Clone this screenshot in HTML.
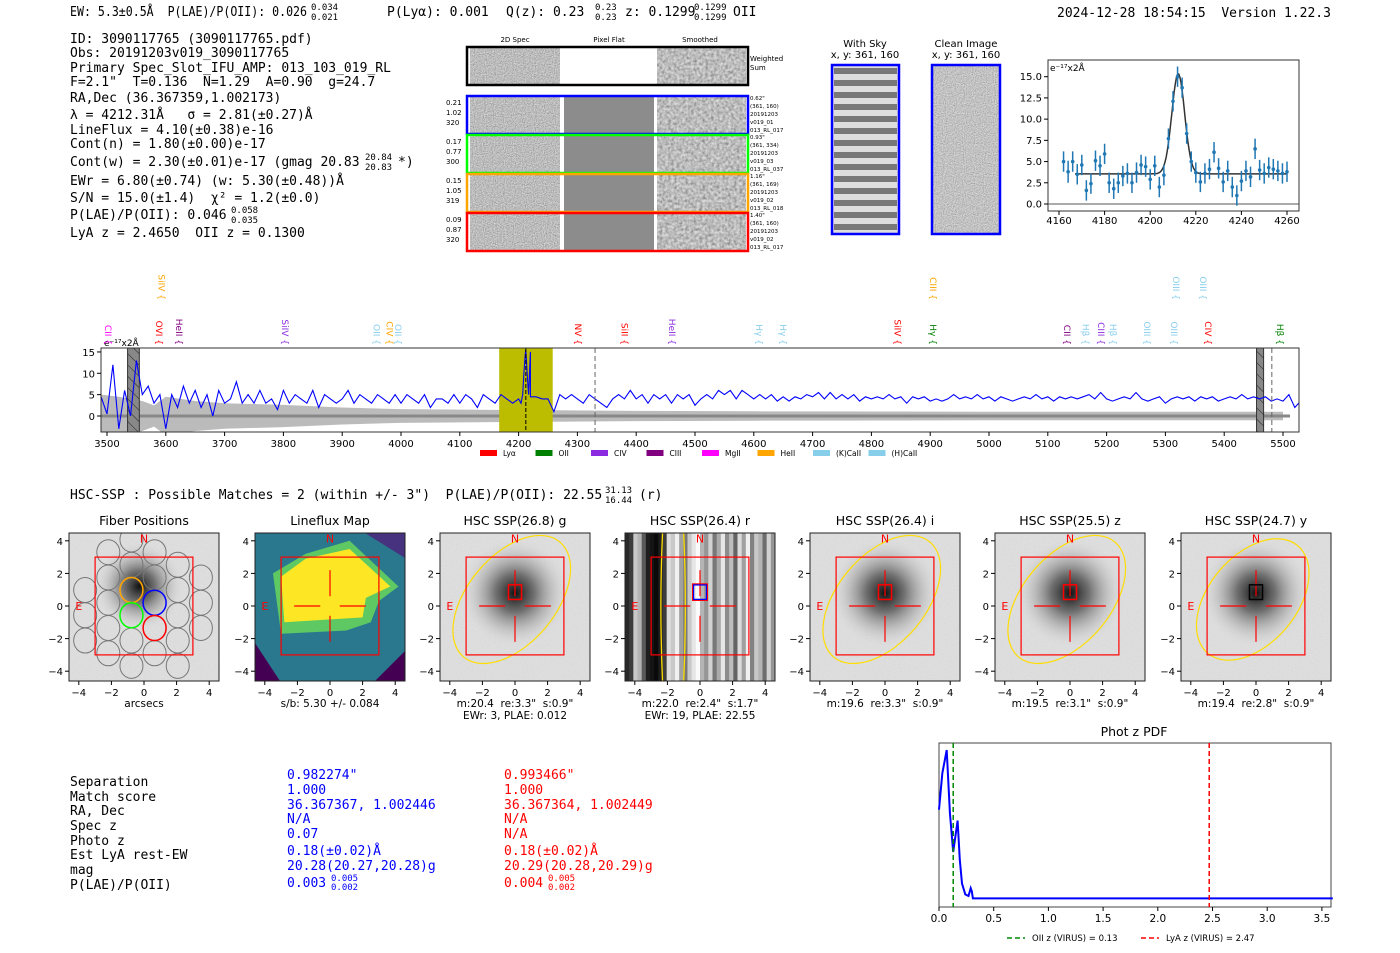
<!DOCTYPE html>
<html><head><meta charset="utf-8">
<style>
html,body{margin:0;padding:0;background:#fff;}
svg{display:block;}
.m{font-family:"DejaVu Sans Mono","Liberation Mono",monospace;font-size:13px;fill:#000;white-space:pre;}
.sm{font-size:9px;}
.s{font-family:"DejaVu Sans","Liberation Sans",sans-serif;}
</style></head>
<body>
<svg id="fig" width="1400" height="953" viewBox="0 0 1400 953" xmlns="http://www.w3.org/2000/svg" xml:space="preserve">
<defs>
<filter id="noise" x="0" y="0" width="100%" height="100%">
<feTurbulence type="fractalNoise" baseFrequency="0.9" numOctaves="1" seed="3"/>
<feColorMatrix type="saturate" values="0"/>
<feComponentTransfer><feFuncA type="linear" slope="0" intercept="1"/></feComponentTransfer>
</filter>
<filter id="noise2" x="0" y="0" width="100%" height="100%">
<feTurbulence type="fractalNoise" baseFrequency="0.35" numOctaves="2" seed="7"/>
<feColorMatrix type="saturate" values="0"/>
<feComponentTransfer><feFuncA type="linear" slope="0" intercept="1"/></feComponentTransfer>
</filter>
<radialGradient id="blob" cx="50%" cy="50%" r="50%">
<stop offset="0" stop-color="#111"/><stop offset="0.35" stop-color="#555" stop-opacity="0.8"/><stop offset="1" stop-color="#ddd" stop-opacity="0"/>
</radialGradient>
<pattern id="hatch" width="8" height="8" patternUnits="userSpaceOnUse" patternTransform="rotate(-45)">
<line x1="0" y1="0" x2="0" y2="8" stroke="#222" stroke-width="1"/></pattern>
</defs>

<g>
<text class="m" x="70" y="16" textLength="237" lengthAdjust="spacingAndGlyphs">EW: 5.3±0.5Å  P(LAE)/P(OII): 0.026</text>
<text class="m sm" x="311" y="10">0.034</text><text class="m sm" x="311" y="20">0.021</text>
<text class="m" x="387" y="16">P(Lyα): 0.001</text>
<text class="m" x="506" y="16">Q(z): 0.23</text>
<text class="m sm" x="595" y="10">0.23</text><text class="m sm" x="595" y="20">0.23</text>
<text class="m" x="625" y="16">z: 0.1299</text>
<text class="m sm" x="694" y="10">0.1299</text><text class="m sm" x="694" y="20">0.1299</text>
<text class="m" x="733" y="16">OII</text>
<text class="m" x="1057" y="17">2024-12-28 18:54:15  Version 1.22.3</text>
</g>

<g>
<text class="m" x="70" y="43">ID: 3090117765 (3090117765.pdf)</text>
<text class="m" x="70" y="57">Obs: 20191203v019_3090117765</text>
<text class="m" x="70" y="72">Primary Spec_Slot_IFU_AMP: 013_103_019_RL</text>
<text class="m" x="70" y="86">F=2.1"  T=0.136  N=1.29  A=0.90  g=24.7</text>
<text class="m" x="70" y="102">RA,Dec (36.367359,1.002173)</text>
<text class="m" x="70" y="119">λ = 4212.31Å   σ = 2.81(±0.27)Å</text>
<text class="m" x="70" y="134">LineFlux = 4.10(±0.38)e-16</text>
<text class="m" x="70" y="148">Cont(n) = 1.80(±0.00)e-17</text>
<text class="m" x="70" y="166">Cont(w) = 2.30(±0.01)e-17 (gmag 20.83</text>
<text class="m sm" x="365" y="160">20.84</text><text class="m sm" x="365" y="170">20.83</text>
<text class="m" x="398" y="166">*)</text>
<text class="m" x="70" y="185">EWr = 6.80(±0.74) (w: 5.30(±0.48))Å</text>
<text class="m" x="70" y="202">S/N = 15.0(±1.4)  χ² = 1.2(±0.0)</text>
<text class="m" x="70" y="219">P(LAE)/P(OII): 0.046</text>
<text class="m sm" x="231" y="213">0.058</text><text class="m sm" x="231" y="223">0.035</text>
<text class="m" x="70" y="237">LyA z = 2.4650  OII z = 0.1300</text>
</g>

<g class="s" font-size="7">
<text x="515" y="42" text-anchor="middle">2D Spec</text>
<text x="609" y="42" text-anchor="middle">Pixel Flat</text>
<text x="700" y="42" text-anchor="middle">Smoothed</text>
<rect x="470" y="48" width="90" height="36" filter="url(#noise)"/>
<rect x="564" y="48" width="90" height="36" fill="#fff"/>
<rect x="657" y="48" width="89" height="36" filter="url(#noise2)"/>
<rect x="467" y="47" width="281" height="38" fill="none" stroke="#000" stroke-width="2.5"/>
<text x="750" y="61">Weighted</text><text x="750" y="70">Sum</text>
<g id="specrows"></g>
</g>

<g class="s" font-size="10">
<text x="865" y="47" text-anchor="middle">With Sky</text>
<text x="865" y="58" text-anchor="middle">x, y: 361, 160</text>
<text x="966" y="47" text-anchor="middle">Clean Image</text>
<text x="966" y="58" text-anchor="middle">x, y: 361, 160</text>
<rect x="832" y="65" width="67" height="169" fill="#ddd"/>
<g id="skystripes"></g>
<rect x="932" y="65" width="68" height="169" filter="url(#noise)" opacity="0.9"/>
<rect x="832" y="65" width="67" height="169" fill="none" stroke="#00f" stroke-width="2.5"/>
<rect x="932" y="65" width="68" height="169" fill="none" stroke="#00f" stroke-width="2.5"/>
</g>

<g id="linefit"></g>
<g id="spectrum"></g>

<g>
<text class="m" x="70" y="499">HSC-SSP : Possible Matches = 2 (within +/- 3")  P(LAE)/P(OII): 22.55</text>
<text class="m sm" x="605" y="493">31.13</text><text class="m sm" x="605" y="503">16.44</text>
<text class="m" x="639" y="499">(r)</text>
</g>

<g id="cutouts"></g>

<g>
<text class="m" x="70" y="786">Separation</text>
<text class="m" x="70" y="801">Match score</text>
<text class="m" x="70" y="815">RA, Dec</text>
<text class="m" x="70" y="830">Spec z</text>
<text class="m" x="70" y="845">Photo z</text>
<text class="m" x="70" y="859">Est LyA rest-EW</text>
<text class="m" x="70" y="874">mag</text>
<text class="m" x="70" y="889">P(LAE)/P(OII)</text>
<text class="m" style="fill:#00f" x="287" y="779">0.982274"</text>
<text class="m" style="fill:#00f" x="287" y="794">1.000</text>
<text class="m" style="fill:#00f" x="287" y="809">36.367367, 1.002446</text>
<text class="m" style="fill:#00f" x="287" y="823">N/A</text>
<text class="m" style="fill:#00f" x="287" y="838">0.07</text>
<text class="m" style="fill:#00f" x="287" y="855">0.18(±0.02)Å</text>
<text class="m" style="fill:#00f" x="287" y="870">20.28(20.27,20.28)g</text>
<text class="m" style="fill:#00f" x="287" y="887">0.003</text>
<text class="m sm" style="fill:#00f" x="331" y="881">0.005</text>
<text class="m sm" style="fill:#00f" x="331" y="890">0.002</text>
<text class="m" style="fill:#f00" x="504" y="779">0.993466"</text>
<text class="m" style="fill:#f00" x="504" y="794">1.000</text>
<text class="m" style="fill:#f00" x="504" y="809">36.367364, 1.002449</text>
<text class="m" style="fill:#f00" x="504" y="823">N/A</text>
<text class="m" style="fill:#f00" x="504" y="838">N/A</text>
<text class="m" style="fill:#f00" x="504" y="855">0.18(±0.02)Å</text>
<text class="m" style="fill:#f00" x="504" y="870">20.29(20.28,20.29)g</text>
<text class="m" style="fill:#f00" x="504" y="887">0.004</text>
<text class="m sm" style="fill:#f00" x="548" y="881">0.005</text>
<text class="m sm" style="fill:#f00" x="548" y="890">0.002</text>
</g>

<g id="pdf"></g>
</svg>

<script>
const fitLam = [4162,4164,4166,4168,4170,4172,4174,4176,4178,4180,4182,4184,4186,4188,4190,4192,4194,4196,4198,4200,4202,4204,4206,4208,4210,4212,4214,4216,4218,4220,4222,4224,4226,4228,4230,4232,4234,4236,4238,4240,4242,4244,4246,4248,4250,4252,4254,4256,4258,4260];
const fitFlux = [5.0,3.8,5.0,3.5,4.6,1.6,2.4,5.1,4.5,5.9,2.5,1.8,2.5,3.3,3.6,2.5,3.7,4.6,4.4,2.9,4.5,2.0,3.4,7.7,12.1,15.0,13.7,8.3,5.0,3.7,2.6,3.6,4.1,6.1,4.2,2.6,3.9,2.0,1.0,2.7,3.9,3.2,6.5,4.0,3.6,4.3,4.1,3.9,3.6,3.8];
const fitErr = [1.2,1.3,1.2,1.2,1.2,1.2,1.2,1.2,1.2,1.2,1.2,1.2,1.2,1.2,1.2,1.2,1.2,1.2,1.2,1.2,1.2,1.2,1.2,1.2,1.2,1.2,1.2,1.2,1.2,1.2,1.2,1.2,1.2,1.2,1.2,1.2,1.2,1.2,1.2,1.2,1.2,1.2,1.2,1.2,1.2,1.2,1.2,1.2,1.2,1.2];
const fitModel = [3.55, 11.8, 4212.3, 2.81];
const fitXTicks = [4160,4180,4200,4220,4240,4260];
const fitYTicks = [0,2.5,5,7.5,10,12.5,15];

const specStart = 3490;
const specFlux = [4.5,0.5,12,-3,6,0,13,5,7,3,5,-3,5,2,7,3,6,2,5,0,6,3,4,8,3,5,3,6,3,4,1.5,6,3,5,4,3,6,2,5,4,3,4,6,3,5,4,3,5,4,3,5,3,5,4,3,5,2,4,4,3,5,3,5,4,2,5,4,3,5,4,3,4,12,15,4.5,4,4,1,5,4,5,4,3,5,4,3,2,4,5,4,6,4,5,3,5,4,5,3,5,4,5,2.5,4,5,4,6,5,6,4,6,5,4,5,4,5,3.5,4.5,3.5,4.5,4,5,4.5,5.5,4,5.5,4,5,4,5,3.5,4.5,4,4.5,4,5,4,4.5,3,4.5,4,4.5,3.5,4,3.5,4,5,4,4.5,4,5,4,4.5,3.5,4.5,4,3.5,4,4.5,4,5,4,4.5,3.5,4.5,4,4.5,4,4.5,5,4,5.5,4,3.5,4,4.5,4,5.5,4,3.5,4,4.5,3,4,4.5,4,4.5,3.5,4.5,4,4.5,3.5,4,4.5,4,5,4,4.5,4,4.5,3.5,4,3.5,5,2,3.5,3.5];
const peakLam = [4204,4207,4209,4211,4212,4213,4215,4217,4220];
const peakFlux = [3,5,10,14,15.5,14,9,5,4.5];
const errLam = [3490,3520,3560,3580,3600,3650,3700,3800,3900,4000,4200,4400,4600,5000,5500];
const errVal = [5,4.5,3.5,2.5,4.5,3.5,3,2.6,2,1.6,1.4,1.2,1.1,1,1];
const specXTicks = [3500,3600,3700,3800,3900,4000,4100,4200,4300,4400,4500,4600,4700,4800,4900,5000,5100,5200,5300,5400,5500];
const specYTicks = [0,5,10,15];
const lineNames = ["CII","OVI","HeII","SiIV","OII","CIV","OII","NV","SiII","HeII","Hγ","Hγ","SiIV","Hγ","CII","Hβ","CIII","Hβ","OIII","OIII","CIV","Hβ","SiIV","CIII","OIII","OIII"];
const lineLam = [3500,3587,3621,3801,3957,3979,3993,4299,4378,4459,4607,4648,4843,4903,5131,5162,5189,5209,5267,5313,5371,5493,3591,4903,5316,5362];
const lineColor = ["#f0f","#f00","#800080","#8a2be2","#87ceeb","#ffa500","#87ceeb","#f00","#f00","#8a2be2","#87ceeb","#87ceeb","#f00","#008000","#800080","#87ceeb","#8a2be2","#87ceeb","#87ceeb","#87ceeb","#f00","#008000","#ffa500","#ffa500","#87ceeb","#87ceeb"];
const lineTier = [0,0,0,0,0,0,0,0,0,0,0,0,0,0,0,0,0,0,0,0,0,0,1,1,1,1];
const legendNames = ["Lyα","OII","CIV","CIII","MgII","HeII","(K)CaII","(H)CaII"];
const legendColors = ["#f00","#008000","#8a2be2","#800080","#f0f","#ffa500","#87ceeb","#87ceeb"];

const pdfZ = [0,0.03,0.07,0.1,0.13,0.15,0.17,0.19,0.21,0.24,0.27,0.29,0.3,0.31,3.6];
const pdfP = [0.62,0.85,1.0,0.6,0.35,0.45,0.55,0.3,0.15,0.08,0.07,0.12,0.1,0.055,0.055];
const pdfXTicks = [0,0.5,1,1.5,2,2.5,3,3.5];
const zOII = 0.13, zLyA = 2.47;

const NS = "http://www.w3.org/2000/svg";
function mk(tag, attrs, parent, txt){
  const e = document.createElementNS(NS, tag);
  for (const k in attrs) e.setAttribute(k, attrs[k]);
  if (txt !== undefined) e.textContent = txt;
  parent.appendChild(e); return e;
}
const SF = 'font-family:"DejaVu Sans","Liberation Sans",sans-serif;';

(function(){
  const g = document.getElementById('specrows');
  const rows = [[95,"#00f",["0.21","1.02","320"],["0.62\"","(361, 160)","20191203","v019_01","013_RL_017"]],
                [134,"#0f0",["0.17","0.77","300"],["0.93\"","(361, 334)","20191203","v019_03","013_RL_037"]],
                [173,"#ffa500",["0.15","1.05","319"],["1.16\"","(361, 169)","20191203","v019_02","013_RL_018"]],
                [212,"#f00",["0.09","0.87","320"],["1.40\"","(361, 160)","20191203","v019_02","013_RL_017"]]];
  rows.forEach((r,i)=>{
    const y=r[0];
    let e=mk('rect',{x:470,y:y+2,width:90,height:36,filter:'url(#noise)'},g);
    
    
    mk('rect',{x:564,y:y+2,width:90,height:36,fill:'#8c8c8c'},g);
    mk('rect',{x:657,y:y+2,width:89,height:36,filter:'url(#noise2)'},g);
    mk('rect',{x:467,y:y+1,width:281,height:38,fill:'none',stroke:r[1],'stroke-width':2.5},g);
    r[2].forEach((t,j)=>mk('text',{x:446,y:y+10+j*10,'font-size':7},g,t));
    r[3].forEach((t,j)=>mk('text',{x:750,y:y+5+j*8,'font-size':5.5},g,t));
  });
  const s=document.getElementById('skystripes');
  for(let k=0;k<14;k++){
    mk('rect',{x:834,y:68+k*12,width:63,height:6,fill:'#555',opacity:0.75},s);
  }
})();

(function(){
  const g=document.getElementById('linefit');
  const L=1048,R=1299,T=60,B=211;
  const x=v=>1059+(v-4160)*(1287-1059)/100;
  const y=v=>204-v*(204-76.7)/15;
  mk('rect',{x:L,y:T,width:R-L,height:B-T,fill:'#fff',stroke:'#333'},g);
  mk('line',{x1:L,x2:R,y1:y(0),y2:y(0),stroke:'#555'},g);
  fitXTicks.forEach(t=>{mk('line',{x1:x(t),x2:x(t),y1:B,y2:B+4,stroke:'#000'},g);mk('text',{x:x(t),y:B+13,'text-anchor':'middle','font-size':10,style:SF},g,t);});
  fitYTicks.forEach(t=>{mk('line',{x1:L-4,x2:L,y1:y(t),y2:y(t),stroke:'#000'},g);mk('text',{x:L-6,y:y(t)+3.5,'text-anchor':'end','font-size':10,style:SF},g,t.toFixed(1));});
  mk('text',{x:L+2,y:T+11,'font-size':9,style:SF},g,'e⁻¹⁷x2Å');
  let d='';
  for(let v=4167;v<=4260;v+=0.5){const f=fitModel[0]+fitModel[1]*Math.exp(-Math.pow(v-fitModel[2],2)/(2*fitModel[3]*fitModel[3]));d+=(d?'L':'M')+x(v).toFixed(1)+','+y(f).toFixed(1);}
  const p=mk('path',{d:d,fill:'none',stroke:'#333','stroke-width':1.5},g);
  
  
  fitLam.forEach((l,i)=>{
    const e=mk('line',{x1:x(l),x2:x(l),y1:y(fitFlux[i]-fitErr[i]),y2:y(fitFlux[i]+fitErr[i]),stroke:'#1f77b4','stroke-width':1.5},g);
    
    
    const c=mk('circle',{cx:x(l),cy:y(fitFlux[i]),r:1.8,fill:'#1f77b4'},g);
    
    
  });
})();

(function(){
  const g=document.getElementById('spectrum');
  const L=101,R=1299,T=348,B=432;
  const x=v=>107+(v-3500)*0.588;
  const y=v=>416-v*4.27;
  mk('rect',{x:L,y:T,width:R-L,height:B-T,fill:'#fff'},g);
  const clip=mk('clipPath',{id:'specclip'},g); mk('rect',{x:L,y:T,width:R-L,height:B-T},clip);
  const c=mk('g',{'clip-path':'url(#specclip)'},g);
  let up='',dn='';
  errLam.forEach((l,i)=>{up+=(up?'L':'M')+x(l)+','+y(errVal[i]);});
  for(let i=errLam.length-1;i>=0;i--){dn+='L'+x(errLam[i])+','+y(-errVal[i]);}
  const band=mk('path',{d:up+dn+'Z',fill:'#bbb'},c);
  
  
  mk('line',{x1:L,x2:1290,y1:y(0),y2:y(0),stroke:'#888','stroke-width':3},c);
  mk('rect',{x:x(4167),y:T,width:x(4258)-x(4167),height:B-T,fill:'#bcbc00'},c);
  mk('rect',{x:x(3535),y:T,width:x(3555)-x(3535),height:B-T,fill:'#888',stroke:'#333'},c);
  mk('rect',{x:x(3535),y:T,width:x(3555)-x(3535),height:B-T,fill:'url(#hatch)'},c);
  mk('rect',{x:x(5455),y:T,width:x(5467)-x(5455),height:B-T,fill:'#888',stroke:'#333'},c);
  mk('rect',{x:x(5455),y:T,width:x(5467)-x(5455),height:B-T,fill:'url(#hatch)'},c);
  const pts=[];
  specFlux.forEach((f,i)=>{const l=specStart+i*10;if(l<4202||l>4219)pts.push([l,f]);});
  peakLam.forEach((l,i)=>pts.push([l,peakFlux[i]]));
  pts.sort((a,b)=>a[0]-b[0]);
  const d=pts.map((p,i)=>(i?'L':'M')+x(p[0]).toFixed(1)+','+y(p[1]).toFixed(1)).join('');
  const sp=mk('path',{d:d,fill:'none',stroke:'#00f','stroke-width':1.1},c);
  
  
  mk('line',{x1:x(4212.3),x2:x(4212.3),y1:T,y2:B,stroke:'#000','stroke-dasharray':'4,2'},c);
  mk('line',{x1:x(4330),x2:x(4330),y1:T,y2:B,stroke:'#666','stroke-dasharray':'5,3'},c);
  mk('line',{x1:x(5481),x2:x(5481),y1:T,y2:B,stroke:'#666','stroke-dasharray':'5,3'},c);
  mk('rect',{x:L,y:T,width:R-L,height:B-T,fill:'none',stroke:'#333'},g);
  specXTicks.forEach(t=>{mk('line',{x1:x(t),x2:x(t),y1:B,y2:B+4,stroke:'#000'},g);mk('text',{x:x(t),y:B+15,'text-anchor':'middle','font-size':10,style:SF},g,t);});
  specYTicks.forEach(t=>{mk('line',{x1:L-4,x2:L,y1:y(t),y2:y(t),stroke:'#000'},g);mk('text',{x:L-6,y:y(t)+4,'text-anchor':'end','font-size':10,style:SF},g,t);});
  mk('text',{x:104,y:346,'font-size':9,style:SF},g,'e⁻¹⁷x2Å');
  lineNames.forEach((n,i)=>{
    const xx=x(lineLam[i]);
    const yb=lineTier[i]?300:345;
    const t=mk('text',{x:xx,y:yb,transform:'rotate(90 '+xx+' '+yb+')','text-anchor':'end','font-size':9,fill:lineColor[i],'dominant-baseline':'central',style:SF},g,n+' {');
    
    
  });
  legendNames.forEach((n,i)=>{
    const lx=480+i*55.5;
    const r=mk('rect',{x:lx,y:450,width:17,height:6,fill:legendColors[i]},g);
    
    
    mk('text',{x:lx+23,y:456,'font-size':7.5,style:SF},g,n);
  });
})();

(function(){
  const root=document.getElementById('cutouts');
  const centers=[144,330,515,700,885,1070,1256];
  const titles=["Fiber Positions","Lineflux Map","HSC SSP(26.8) g","HSC SSP(26.4) r","HSC SSP(26.4) i","HSC SSP(25.5) z","HSC SSP(24.7) y"];
  const subs=[["arcsecs",""],["s/b: 5.30 +/- 0.084",""],["m:20.4  re:3.3\"  s:0.9\"","EWr: 3, PLAE: 0.012"],["m:22.0  re:2.4\"  s:1.7\"","EWr: 19, PLAE: 22.55"],["m:19.6  re:3.3\"  s:0.9\"",""],["m:19.5  re:3.1\"  s:0.9\"",""],["m:19.4  re:2.8\"  s:0.9\"",""]];
  const stripes=[40,60,200,180,90,30,20,10,30,60,220,200,240,160,120,200,230,250,180,150,210,120,170,230,140,190,100,220,160,240,130,200,180,110,210,150];
  const SC=16.3, CY=606;
  centers.forEach((cx,k)=>{
    const g=mk('g',{},root);
    
    
    const X=u=>cx+u*SC, Y=u=>CY-u*SC;
    const L=cx-75,T=533,W=150,H=148;
    const cp=mk('clipPath',{id:'cp'+k},g); mk('rect',{x:L,y:T,width:W,height:H},cp);
    const c=mk('g',{'clip-path':'url(#cp'+k+')'},g);
    if(k===1){
      mk('rect',{x:L,y:T,width:W,height:H,fill:'#2a788e'},c);
      mk('polygon',{points:[[L,T+110],[L+25,H+T],[L,H+T]].join(' '),fill:'#440154'},c);
      mk('polygon',{points:[[L+W-40,T],[L+W,T],[L+W,T+25]].join(' '),fill:'#46327e'},c);
      mk('polygon',{points:[[L+W-30,T+H],[L+W,T+H-30],[L+W,T+H]].join(' '),fill:'#440154'},c);
      mk('polygon',{points:[[X(-3.5),Y(2)],[X(-1.5),Y(3.2)],[X(1.2),Y(4)],[X(4.2),Y(1.2)],[X(3),Y(0.3)],[X(2.5),Y(-1)],[X(1),Y(-1.5)],[X(-3),Y(-1.7)]].join(' '),fill:'#5ec962'},c);
      mk('polygon',{points:[[X(-3),Y(1.8)],[X(-1.5),Y(2.9)],[X(1.2),Y(3.5)],[X(3.7),Y(1.2)],[X(2.2),Y(0.5)],[X(2),Y(-0.7)],[X(-2.8),Y(-1)]].join(' '),fill:'#fde725'},c);
    } else if(k===3){
      stripes.forEach((v,i)=>{mk('rect',{x:L+i*W/stripes.length,y:T,width:W/stripes.length+0.5,height:H,fill:'rgb('+v+','+v+','+v+')'},c);});
      mk('path',{d:'M'+X(-2.3)+','+T+' Q'+X(-2.5)+','+CY+' '+X(-2.3)+','+(T+H),fill:'none',stroke:'#fd0','stroke-width':1.3},c);
      mk('path',{d:'M'+X(-1)+','+T+' Q'+X(-0.8)+','+CY+' '+X(-1)+','+(T+H),fill:'none',stroke:'#fd0','stroke-width':1.3},c);
    } else {
      mk('rect',{x:L,y:T,width:W,height:H,fill:'#e2e2e2'},c);
      mk('rect',{x:L,y:T,width:W,height:H,filter:'url(#noise)',opacity:0.12},c);
      const bx=k===0?X(-0.3):X(0), by=k===0?Y(1.2):Y(0.8);
      mk('ellipse',{cx:bx,cy:by,rx:k===0?45:55,ry:k===0?45:55,fill:'url(#blob)'},c);
    }
    if(k===0){
      const cols=[-3.61,-2.19,-0.77,0.65,2.07,3.49];
      cols.forEach((fx,i)=>{
        const off=(i%2===0)?0.98:0.2;
        for(let j=-4;j<=3;j++){const fy=off+1.55*j; if(fx*fx+fy*fy<4.3*4.3) mk('ellipse',{cx:X(fx),cy:Y(fy),rx:11.5,ry:12.5,fill:'none',stroke:'#777'},c);}
      });
      [[-0.77,0.98,'#ffa500'],[0.65,0.2,'#00f'],[-0.77,-0.57,'#0f0'],[0.65,-1.35,'#f00']].forEach(f=>{
        mk('ellipse',{cx:X(f[0]),cy:Y(f[1]),rx:11.5,ry:12.5,fill:'none',stroke:f[2],'stroke-width':1.5},c);
      });
    }
    if(k>=2 && k!==3){
      mk('ellipse',{cx:X(-0.2),cy:Y(0.4),rx:k===6?4.3*SC:4.6*SC,ry:2.7*SC,transform:'rotate(-50 '+X(-0.2)+' '+Y(0.4)+')',fill:'none',stroke:'#fd0','stroke-width':1.2},c);
    }
    mk('rect',{x:X(-3),y:Y(3),width:6*SC,height:6*SC,fill:'none',stroke:'#f00','stroke-width':1.2},c);
    if(k>0){
      [[-2.2,0,-0.6,0],[0.6,0,2.2,0],[0,0.6,0,2.2],[0,-0.6,0,-2.2]].forEach(s=>mk('line',{x1:X(s[0]),y1:Y(s[1]),x2:X(s[2]),y2:Y(s[3]),stroke:'#f00','stroke-width':1.2},c));
    }
    if(k>=2){
      mk('rect',{x:X(-0.4),y:Y(1.3),width:0.8*SC,height:0.9*SC,fill:'none',stroke:k===6?'#000':(k===3?'#00f':'#f00'),'stroke-width':1.5},c);
      if(k===3) mk('rect',{x:X(-0.4)-1,y:Y(1.3)-1,width:0.8*SC+2,height:0.9*SC+2,fill:'none',stroke:'#f00','stroke-width':1},c);
    }
    mk('text',{x:X(0),y:Y(3.9),'text-anchor':'middle','font-size':11,fill:'#f00',style:SF},c,'N');
    mk('text',{x:X(-4),y:Y(0)+4,'text-anchor':'middle','font-size':11,fill:'#f00',style:SF},c,'E');
    mk('rect',{x:L,y:T,width:W,height:H,fill:'none',stroke:'#222'},g);
    mk('text',{x:cx,y:525,'text-anchor':'middle','font-size':12.5,style:SF},g,titles[k]);
    [-4,-2,0,2,4].forEach(t=>{
      mk('line',{x1:X(t),x2:X(t),y1:T+H,y2:T+H+4,stroke:'#000'},g);
      mk('text',{x:X(t),y:696,'text-anchor':'middle','font-size':10,style:SF},g,t<0?'−'+(-t):t);
      mk('line',{x1:L-4,x2:L,y1:Y(t),y2:Y(t),stroke:'#000'},g);
      mk('text',{x:L-6,y:Y(t)+4,'text-anchor':'end','font-size':10,style:SF},g,t<0?'−'+(-t):t);
    });
    mk('text',{x:cx,y:707,'text-anchor':'middle','font-size':10.5,style:SF+'white-space:pre;'},g,subs[k][0]);
    if(subs[k][1]) mk('text',{x:cx,y:719,'text-anchor':'middle','font-size':10.5,style:SF},g,subs[k][1]);
  });
})();

(function(){
  const g=document.getElementById('pdf');
  const L=939,R=1331,T=743,B=907;
  const x=v=>939+v*109.4;
  const y=v=>B-v*157;
  mk('rect',{x:L,y:T,width:R-L,height:B-T,fill:'#fff',stroke:'#444'},g);
  mk('text',{x:1134,y:736,'text-anchor':'middle','font-size':12.5,style:SF},g,'Phot z PDF');
  const d=pdfZ.map((z,i)=>(i?'L':'M')+x(z).toFixed(1)+','+y(pdfP[i]).toFixed(1)).join('');
  const p=mk('path',{d:d,fill:'none',stroke:'#00f','stroke-width':2},g);
  
  
  const a=mk('line',{x1:x(zOII),x2:x(zOII),y1:T,y2:B,stroke:'#080','stroke-width':1.5,'stroke-dasharray':'5,3'},g);
  
  
  const b=mk('line',{x1:x(zLyA),x2:x(zLyA),y1:T,y2:B,stroke:'#f00','stroke-width':1.5,'stroke-dasharray':'5,3'},g);
  
  
  pdfXTicks.forEach(t=>{mk('line',{x1:x(t),x2:x(t),y1:B,y2:B+4,stroke:'#000'},g);mk('text',{x:x(t),y:B+15,'text-anchor':'middle','font-size':10.5,style:SF},g,t.toFixed(1));});
  mk('line',{x1:1007,x2:1025,y1:938,y2:938,stroke:'#080','stroke-width':1.5,'stroke-dasharray':'5,3'},g);
  mk('text',{x:1032,y:941,'font-size':8.5,style:SF},g,'OII z (VIRUS) = 0.13');
  mk('line',{x1:1141,x2:1159,y1:938,y2:938,stroke:'#f00','stroke-width':1.5,'stroke-dasharray':'5,3'},g);
  mk('text',{x:1166,y:941,'font-size':8.5,style:SF},g,'LyA z (VIRUS) = 2.47');
})();
</script>
</body></html>
